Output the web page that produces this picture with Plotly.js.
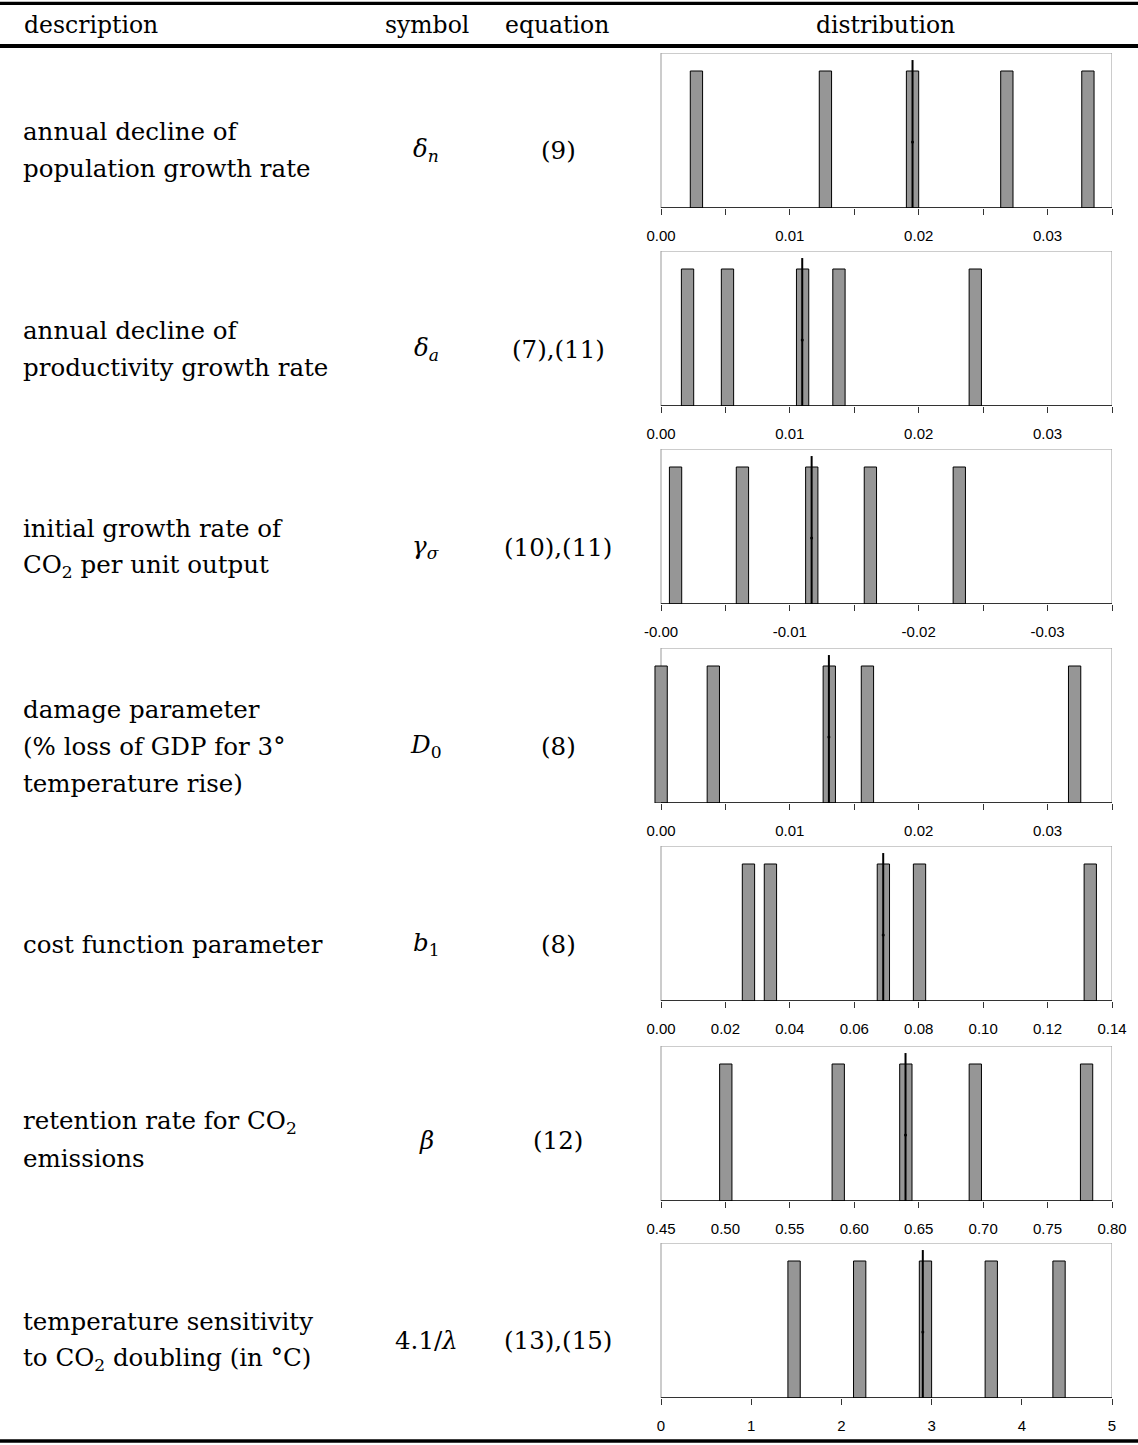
<!DOCTYPE html>
<html><head><meta charset="utf-8">
<script src="https://cdn.plot.ly/plotly-3.0.1.min.js"></script>
<style>body{margin:0;background:#fff}#chart{width:1138px;height:1445px}</style>
</head><body><div id="chart"></div>
<script>
const W = 1138, H = 1445;

// ---- table text ----
const headers = ["description", "symbol", "equation", "distribution"];
const descriptions = [
  ["annual decline of", "population growth rate"],
  ["annual decline of", "productivity growth rate"],
  ["initial growth rate of", "CO<sub>2</sub> per unit output"],
  ["damage parameter", "(% loss of GDP for 3°", "temperature rise)"],
  ["cost function parameter"],
  ["retention rate for CO<sub>2</sub>", "emissions"],
  ["temperature sensitivity", "to CO<sub>2</sub> doubling (in °C)"]
];
const symbols = ["<i>δ</i><sub><i>n</i></sub>", "<i>δ</i><sub><i>a</i></sub>", "<i>γ</i><sub><i>σ</i></sub>",
  "<i>D</i><sub>0</sub>", "<i>b</i><sub>1</sub>", "<i>β</i>", "4.1/<i>λ</i>"];
const equations = ["(9)", "(7),(11)", "(10),(11)", "(8)", "(8)", "(12)", "(13),(15)"];

// ---- distribution values (5 equally likely outcomes each) ----
const probs = [0.2, 0.2, 0.2, 0.2, 0.2];
const popDecline  = [0.00275, 0.01276, 0.01952, 0.02684, 0.03313];
const prodDecline = [0.00206, 0.00516, 0.01099, 0.01381, 0.02439];
const co2Growth   = [-0.00113, -0.00632, -0.0117, -0.01625, -0.02315];
const damage      = [0.00001, 0.00406, 0.01306, 0.01602, 0.0321];
const costParam   = [0.02715, 0.03397, 0.06903, 0.08025, 0.13325];
const retention   = [0.50028, 0.58754, 0.64002, 0.69392, 0.78027];
const tempSens    = [1.4753, 2.2027, 2.932, 3.6614, 4.4128];
const means       = [0.01952, 0.01096, -0.01169, 0.01303, 0.06898, 0.63976, 2.9025];
const meanTop = 0.216, meanDot = 0.0964;

// ---- axes ticks (labelled ticks and unlabelled in-between ticks) ----
const ticks1 = [0, 0.01, 0.02, 0.03];
const labels1 = ["0.00", "0.01", "0.02", "0.03"];
const minor1 = [0.005, 0.015, 0.025, 0.035];
const ticks3 = [0, -0.01, -0.02, -0.03];
const labels3 = ["-0.00", "-0.01", "-0.02", "-0.03"];
const minor3 = [-0.005, -0.015, -0.025, -0.035];
const ticks5 = [0, 0.02, 0.04, 0.06, 0.08, 0.10, 0.12, 0.14];
const labels5 = ["0.00", "0.02", "0.04", "0.06", "0.08", "0.10", "0.12", "0.14"];
const ticks6 = [0.45, 0.50, 0.55, 0.60, 0.65, 0.70, 0.75, 0.80];
const labels6 = ["0.45", "0.50", "0.55", "0.60", "0.65", "0.70", "0.75", "0.80"];
const ticks7 = [0, 1, 2, 3, 4, 5];
const labels7 = ["0", "1", "2", "3", "4", "5"];

const panels = [
  {vals: popDecline,  range: [0, 0.035],   tv: ticks1, tt: labels1, mv: minor1},
  {vals: prodDecline, range: [0, 0.035],   tv: ticks1, tt: labels1, mv: minor1},
  {vals: co2Growth,   range: [0, -0.035],  tv: ticks3, tt: labels3, mv: minor3},
  {vals: damage,      range: [0, 0.035],   tv: ticks1, tt: labels1, mv: minor1},
  {vals: costParam,   range: [0, 0.14],    tv: ticks5, tt: labels5, mv: []},
  {vals: retention,   range: [0.45, 0.80], tv: ticks6, tt: labels6, mv: []},
  {vals: tempSens,    range: [0, 5],       tv: ticks7, tt: labels7, mv: []}
];

// ---- geometry (px) ----
const plotL = 661, plotR = 1112, pad = 7;
const axisY = [208, 406, 604, 803, 1001, 1201, 1398];
const boxH = 155;
const yMax = 0.2263;
const rowY = [150, 349, 547, 746, 944, 1140, 1340];
const lineGap = 37;

const px = x => x / W;
const py = y => 1 - y / H;

const data = [];
const layout = {
  width: W, height: H, margin: {l: 0, r: 0, t: 0, b: 0},
  paper_bgcolor: "#fff", plot_bgcolor: "rgba(0,0,0,0)",
  showlegend: false, shapes: [], annotations: []
};
const tickFont = {family: "Liberation Sans, Arial, sans-serif", size: 15, color: "#000"};
const textFont = {family: "DejaVu Serif, serif", size: 24.5, color: "#000"};
const headFont = {family: "DejaVu Serif, serif", size: 23.5, color: "#000"};

panels.forEach((p, i) => {
  const n = i + 1;
  const xs = n === 1 ? "" : String(n);
  const span = p.range[1] - p.range[0];
  const unitPx = (plotR - plotL) / span;
  const r0 = p.range[0] - pad / unitPx;
  const barW = Math.abs(12.3 / unitPx);
  data.push({type: "bar", x: p.vals, y: probs, width: probs.map(() => barW),
    xaxis: "x" + xs, yaxis: "y" + xs,
    marker: {color: "#969696", line: {color: "#000", width: 1}}, hoverinfo: "skip"});
  data.push({type: "scatter", mode: "lines", x: [means[i], means[i]], y: [0, meanTop],
    xaxis: "x" + xs, yaxis: "y" + xs, line: {color: "#000", width: 2}, hoverinfo: "skip", cliponaxis: false});
  data.push({type: "scatter", mode: "markers", x: [means[i]], y: [meanDot],
    xaxis: "x" + xs, yaxis: "y" + xs, marker: {color: "#000", size: 3}, hoverinfo: "skip"});

  const dom = [px(plotL - pad), px(plotR)];
  const ydom = [py(axisY[i]), py(axisY[i] - boxH)];
  const common = {domain: dom, range: [r0, p.range[1]], tickmode: "array",
    showgrid: false, zeroline: false, showline: false, fixedrange: true};
  const mainAx = Object.assign({}, common, {anchor: "y" + xs, tickvals: p.tv, ticktext: p.tt,
    ticks: "outside", ticklen: 6, tickwidth: 1, tickcolor: "#333",
    tickfont: tickFont, ticklabelstandoff: 8});
  if (p.mv.length) {
    mainAx.minor = {tickmode: "array", tickvals: p.mv, ticks: "outside", ticklen: 6,
      tickwidth: 1, tickcolor: "#333", showgrid: false};
  }
  layout["xaxis" + xs] = mainAx;
  layout["xaxis" + (n + 7)] = Object.assign({}, common, {overlaying: "x" + xs, anchor: "y" + xs,
    tickvals: p.tv.concat(p.mv), ticks: "inside", ticklen: 5, tickwidth: 1, tickcolor: "#333",
    showticklabels: false});
  layout["yaxis" + xs] = {domain: ydom, range: [0, yMax], anchor: "x" + xs, visible: false,
    showgrid: false, zeroline: false, fixedrange: true};

  // frame (grey) and base line (black)
  layout.shapes.push({type: "rect", xref: "x" + xs, yref: "y" + xs, x0: p.range[0], x1: p.range[1],
    y0: 0, y1: yMax, line: {color: "#999", width: 1}, layer: "below"});
  layout.shapes.push({type: "line", xref: "x" + xs, yref: "y" + xs, x0: p.range[0], x1: p.range[1],
    y0: 0, y1: 0, line: {color: "#000", width: 1.3}, layer: "above"});

  // text columns
  const lines = descriptions[i];
  lines.forEach((t, k) => {
    const yy = rowY[i] + (k - (lines.length - 1) / 2) * lineGap;
    layout.annotations.push({text: t, x: px(21), y: py(yy), xref: "paper", yref: "paper",
      xanchor: "left", yanchor: "middle", showarrow: false, font: textFont});
  });
  layout.annotations.push({text: symbols[i], x: px(426), y: py(rowY[i]), xref: "paper", yref: "paper",
    xanchor: "center", yanchor: "middle", showarrow: false, font: textFont});
  layout.annotations.push({text: equations[i], x: px(558), y: py(rowY[i]), xref: "paper", yref: "paper",
    xanchor: "center", yanchor: "middle", showarrow: false, font: textFont});
});

// header
const headerX = [22, 427, 557, 885];
headers.forEach((h, k) => {
  layout.annotations.push({text: h, x: px(headerX[k]), y: py(25), xref: "paper", yref: "paper",
    xanchor: k === 0 ? "left" : "center", yanchor: "middle", showarrow: false, font: headFont});
});

// table rules
[[3.3, 3.3], [46, 4], [1441, 3.3]].forEach(([y, w]) => {
  layout.shapes.push({type: "line", xref: "paper", yref: "paper", x0: px(0), x1: px(1138),
    y0: py(y), y1: py(y), line: {color: "#000", width: w}});
});

Plotly.newPlot("chart", data, layout, {staticPlot: true});
</script></body></html>
